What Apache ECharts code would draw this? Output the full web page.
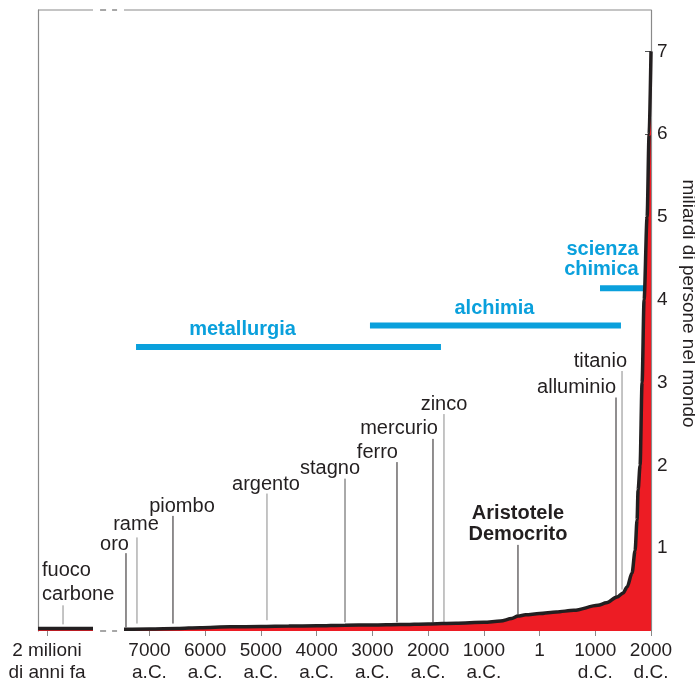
<!DOCTYPE html>
<html>
<head>
<meta charset="utf-8">
<script src="https://cdn.jsdelivr.net/npm/echarts@6/dist/echarts.min.js"></script>
<style>
  html, body { margin: 0; padding: 0; background: #ffffff; }
  #chart { width: 695px; height: 683px; }
</style>
</head>
<body>
<div id="chart"></div>
<script>
// ---------------- DATA ----------------
// population curve (years, billions); null marks the axis break
const yearValues = [-9000, -8500, -8013, -7700, -7457, -7000, -6500, -6093, -5555, -5000, -4500, -4000, -3491, -3000, -2500, -2000, -1500, -1000, -700, -500, -387, -250, 0, 300, 617, 1048, 1200, 1390, 1500, 1570, 1660, 1714, 1750, 1768, 1804, 1840, 1876, 1930, 1966, 2000];
const population = [0.03, 0.03, 0.03, null, 0.02, 0.025, 0.03, 0.04, 0.05, 0.055, 0.06, 0.063, 0.07, 0.072, 0.078, 0.085, 0.095, 0.105, 0.12, 0.15, 0.18, 0.195, 0.21, 0.23, 0.25, 0.31, 0.34, 0.41, 0.46, 0.53, 0.70, 0.97, 1.34, 1.70, 2.0, 3.0, 4.0, 5.0, 6.0, 7.0];

// bottom axis ticks
const tickYears = [-8839, -7000, -6000, -5000, -4000, -3000, -2000, -1000, 0, 1000, 2000];
const tickLabels = ['2 milioni\ndi anni fa', '7000\na.C.', '6000\na.C.', '5000\na.C.', '4000\na.C.', '3000\na.C.', '2000\na.C.', '1000\na.C.', '1', '1000\nd.C.', '2000\nd.C.'];

// right axis ticks
const yTicks = [1, 2, 3, 4, 5, 6, 7];

// discoveries / events
const eventNames = ['fuoco\ncarbone', 'oro', 'rame', 'piombo', 'argento', 'stagno', 'ferro', 'mercurio', 'zinco', 'Aristotele\nDemocrito', 'alluminio', 'titanio'];
const eventYears = [-8551, -7421, -7224, -6578, -4891, -3491, -2558, -1912, -1715, -387, 1372, 1480];
const eventTop = [0.31, 0.94, 1.13, 1.39, 1.66, 1.84, 2.04, 2.32, 2.62, 1.04, 2.82, 3.14];
const eventBottom = [0.08, 0.045, 0.09, 0.09, 0.13, 0.105, 0.105, 0.105, 0.105, 0.2, 0.42, 0.50];

// eras (blue bars)
const eraNames = ['metallurgia', 'alchimia', 'scienza\nchimica'];
const eraStart = [-7241, -3043, 1085];
const eraEnd = [-1769, 1461, 1940];
const eraLevel = [3.43, 3.69, 4.14];

// axis break
const breakFrom = -8013, breakTo = -7457;
const breakDashFrom = -7886, breakDashTo = -7581;
const xMin = -9000, xMax = 2000, yMax = 7.5;

// ---------------- STYLES ----------------
const FONT = '"Liberation Sans", Arial, Helvetica, sans-serif';
const TXT = '#231f20';
const BLUE = '#0aa0dc';
const RED = '#ed1c24';
const FRAME = '#8a8a8a';

const eventStyle = {
  'fuoco\ncarbone': { align: 'left', dx: -21, dy: -23, color: '#8a8a8a', lh: 24 },
  'oro': { align: 'right', dx: 3, dy: -9, color: '#231f20' },
  'rame': { align: 'center', dx: -1, dy: -13, color: '#8a8a8a' },
  'piombo': { align: 'center', dx: 9, dy: -9, color: '#231f20' },
  'argento': { align: 'center', dx: -1, dy: -9, color: '#8a8a8a' },
  'stagno': { align: 'center', dx: -15, dy: -10, color: '#555555' },
  'ferro': { align: 'right', dx: 1, dy: -10, color: '#231f20' },
  'mercurio': { align: 'right', dx: 5, dy: -10, color: '#231f20' },
  'zinco': { align: 'center', dx: 0, dy: -10, color: '#8a8a8a' },
  'Aristotele\nDemocrito': { align: 'center', dx: 0, dy: -21, color: '#231f20', bold: true, lh: 21 },
  'alluminio': { align: 'right', dx: 0, dy: -10, color: '#231f20' },
  'titanio': { align: 'right', dx: 5, dy: -10, color: '#8a8a8a' }
};
const eraStyle = [
  { anchor: 'mid', align: 'center', dx: -46, dy: -18 },
  { anchor: 'mid', align: 'center', dx: -1, dy: -17 },
  { anchor: 'end', align: 'right', dx: -9, dy: -29 }
];

const curveData = yearValues.map((y, i) => [y, population[i]]);
const eventData = eventNames.map((n, i) => [eventYears[i], eventBottom[i], eventTop[i], i]);
const eraData = eraNames.map((n, i) => [eraStart[i], eraEnd[i], eraLevel[i], i]);

const chart = echarts.init(document.getElementById('chart'), null, { renderer: 'canvas' });

const option = {
  animation: false,
  backgroundColor: '#ffffff',
  grid: { left: 38, right: 44, top: 10, bottom: 52, containLabel: false, outerBoundsMode: 'none' },
  xAxis: {
    type: 'value', min: xMin, max: xMax,
    splitLine: { show: false },
    axisLine: { show: false, onZero: false },
    axisTick: { show: true, customValues: tickYears, length: 5, lineStyle: { color: FRAME, width: 1 } },
    axisLabel: {
      customValues: tickYears,
      formatter: function (v) { const i = tickYears.indexOf(v); return i >= 0 ? tickLabels[i] : ''; },
      color: TXT, fontSize: 19, fontFamily: FONT, lineHeight: 22, margin: 9, verticalAlign: 'top',
      hideOverlap: false
    }
  },
  yAxis: [{
    type: 'value', min: 0, max: yMax, position: 'right',
    splitLine: { show: false },
    axisLine: { show: true, onZero: false, lineStyle: { color: FRAME, width: 1.2 } },
    axisTick: { show: true, inside: true, length: 6, customValues: yTicks, lineStyle: { color: '#555', width: 1 } },
    axisLabel: { customValues: yTicks, color: TXT, fontSize: 19, fontFamily: FONT, margin: 6 },
    name: 'miliardi di persone nel mondo',
    nameLocation: 'middle', nameRotate: -90, nameGap: 21,
    nameTextStyle: { color: TXT, fontSize: 19, fontFamily: FONT, padding: [0, 34, 0, 0] }
  }, {
    type: 'value', min: 0, max: yMax, position: 'left',
    splitLine: { show: false },
    axisLine: { show: true, onZero: false, lineStyle: { color: FRAME, width: 1.2 } },
    axisTick: { show: false }, axisLabel: { show: false }
  }],
  series: [
    {
      // frame: broken top border and dashed break on the baseline
      type: 'custom', z: 1, silent: true, clip: false,
      data: [[0]],
      renderItem: function (params, api) {
        const c = (x, y) => api.coord([x, y]);
        const solid = { stroke: FRAME, lineWidth: 1.2 };
        const dashed = { stroke: FRAME, lineWidth: 1.5, lineDash: [6, 6] };
        const mk = (a, b, s) => ({ type: 'line', shape: { x1: a[0], y1: a[1], x2: b[0], y2: b[1] }, style: s });
        return {
          type: 'group',
          children: [
            mk(c(xMin, yMax), c(breakFrom, yMax), solid),
            mk(c(breakTo, yMax), c(xMax, yMax), solid),
            mk(c(breakDashFrom, yMax), c(breakDashTo, yMax), dashed),
            mk(c(breakDashFrom, 0), c(breakDashTo, 0), dashed)
          ]
        };
      }
    },
    {
      // eras
      type: 'custom', z: 2, silent: true, clip: false,
      data: eraData,
      renderItem: function (params, api) {
        const i = api.value(3);
        const a = api.coord([api.value(0), api.value(2)]);
        const b = api.coord([api.value(1), api.value(2)]);
        const st = eraStyle[i];
        const ax = st.anchor === 'end' ? b[0] : (a[0] + b[0]) / 2;
        return {
          type: 'group',
          children: [
            { type: 'line', shape: { x1: a[0], y1: a[1], x2: b[0], y2: b[1] }, style: { stroke: BLUE, lineWidth: 6 } },
            { type: 'text', style: { text: eraNames[i], x: ax + st.dx, y: a[1] + st.dy, align: st.align, verticalAlign: 'middle',
              fill: BLUE, font: 'bold 20px ' + FONT, lineHeight: 20 } }
          ]
        };
      }
    },
    {
      // events
      type: 'custom', z: 3, silent: true, clip: false,
      data: eventData,
      renderItem: function (params, api) {
        const i = api.value(3);
        const name = eventNames[i];
        const st = eventStyle[name];
        const bot = api.coord([api.value(0), api.value(1)]);
        const top = api.coord([api.value(0), api.value(2)]);
        return {
          type: 'group',
          children: [
            { type: 'line', shape: { x1: top[0], y1: top[1], x2: bot[0], y2: bot[1] }, style: { stroke: st.color, lineWidth: 1 } },
            { type: 'text', style: { text: name, x: top[0] + st.dx, y: top[1] + st.dy, align: st.align, verticalAlign: 'middle',
              fill: TXT, font: (st.bold ? 'bold ' : '') + '20px ' + FONT, lineHeight: st.lh || 22 } }
          ]
        };
      }
    },
    {
      type: 'line', z: 5, data: curveData,
      showSymbol: false, symbol: 'none', connectNulls: false,
      smooth: 0.3, smoothMonotone: 'x',
      lineStyle: { color: TXT, width: 3.5 },
      areaStyle: { color: RED, opacity: 1 }
    }
  ]
};
chart.setOption(option);
</script>
</body>
</html>
